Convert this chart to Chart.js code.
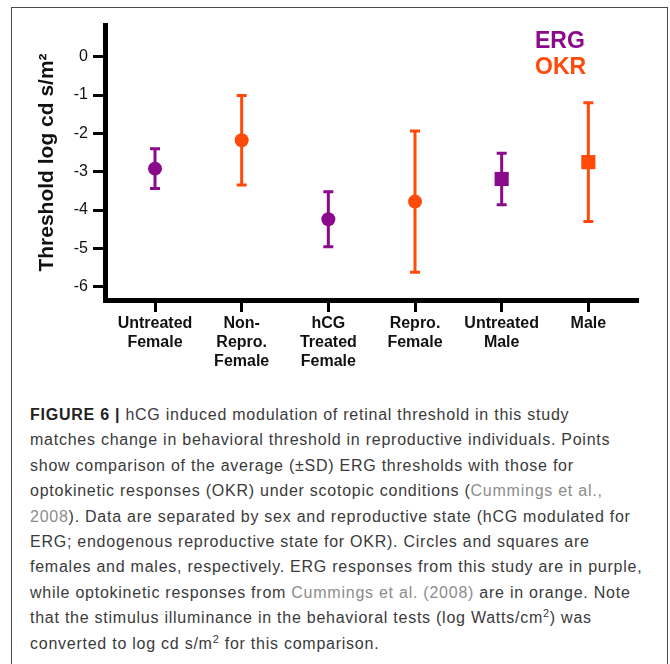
<!DOCTYPE html>
<html>
<head>
<meta charset="utf-8">
<script src="https://cdn.jsdelivr.net/npm/chart.js@4.4.1/dist/chart.umd.min.js"></script>
<style>
  html, body { margin: 0; padding: 0; background: #fff; }
  body { position: relative; width: 670px; height: 664px; overflow: hidden; font-family: "Liberation Sans", Arial, sans-serif; }
  .frame { position: absolute; left: 11px; top: 7px; width: 655px; height: 700px; border: 1px solid #4a4a4a; }
  #chart { position: absolute; left: 0; top: 0; }
  .caption { position: absolute; left: 30px; top: 402px; margin: 0; font-size: 16px; line-height: 25.4px; letter-spacing: 0.75px; color: #3a3a3a; white-space: nowrap; }
  .caption b { color: #222; }
  .caption .ref { color: #8c8c8c; }
  .caption sup { font-size: 11px; line-height: 0; vertical-align: 6px; }
</style>
</head>
<body>
<div class="frame"></div>
<canvas id="chart" width="670" height="385"></canvas>
<p class="caption"><b>FIGURE 6 |</b> hCG induced modulation of retinal threshold in this study<br>
matches change in behavioral threshold in reproductive individuals. Points<br>
show comparison of the average (±SD) ERG thresholds with those for<br>
optokinetic responses (OKR) under scotopic conditions (<span class="ref">Cummings et al.,</span><br>
<span class="ref">2008</span>). Data are separated by sex and reproductive state (hCG modulated for<br>
ERG; endogenous reproductive state for OKR). Circles and squares are<br>
females and males, respectively. ERG responses from this study are in purple,<br>
while optokinetic responses from <span class="ref">Cummings et al. (2008)</span> are in orange. Note<br>
that the stimulus illuminance in the behavioral tests (log Watts/cm<sup>2</sup>) was<br>
converted to log cd s/m<sup>2</sup> for this comparison.</p>
<script>
  const categories = [
    ['Untreated', 'Female'],
    ['Non-', 'Repro.', 'Female'],
    ['hCG', 'Treated', 'Female'],
    ['Repro.', 'Female'],
    ['Untreated', 'Male'],
    ['Male'],
  ];
  const sex = ['F', 'F', 'F', 'F', 'M', 'M'];

  // mean and SD, null where the group was not measured
  const ergMean = [-2.92, null, -4.24, null, -3.19, null];
  const ergSd = [0.52, null, 0.72, null, 0.67, null];
  const okrMean = [null, -2.18, null, -3.78, null, -2.75];
  const okrSd = [null, 1.17, null, 1.84, null, 1.55];

  const yTicks = [0, -1, -2, -3, -4, -5, -6];

  const PURPLE = '#8b0a8b';
  const ORANGE = '#ff4a0a';
  const FONT = '"Liberation Sans", Arial, sans-serif';

  Chart.defaults.font.family = FONT;

  const toPoints = (means, sds) =>
    means.map((y, i) => (y === null ? null : { x: i, y, sd: sds[i] })).filter(Boolean);

  const isMale = (c) => c.raw && sex[c.raw.x] === 'M';

  // vertical +-SD whiskers with caps, under the markers
  const errorBars = {
    id: 'errorBars',
    beforeDatasetsDraw(chart) {
      const { ctx, scales: { x, y } } = chart;
      ctx.save();
      ctx.lineWidth = 3;
      chart.data.datasets.forEach((ds) => {
        ctx.strokeStyle = ds.backgroundColor;
        ds.data.forEach((p) => {
          const px = x.getPixelForValue(p.x);
          const top = y.getPixelForValue(p.y + p.sd);
          const bot = y.getPixelForValue(p.y - p.sd);
          ctx.beginPath();
          ctx.moveTo(px, top);
          ctx.lineTo(px, bot);
          ctx.moveTo(px - 5, top);
          ctx.lineTo(px + 5, top);
          ctx.moveTo(px - 5, bot);
          ctx.lineTo(px + 5, bot);
          ctx.stroke();
        });
      });
      ctx.restore();
    },
  };

  // coloured series names in the top right of the plot
  const textLegend = {
    id: 'textLegend',
    afterDraw(chart) {
      const { ctx, chartArea } = chart;
      ctx.save();
      ctx.font = 'bold 23px ' + FONT;
      ctx.textBaseline = 'middle';
      chart.data.datasets.forEach((ds, i) => {
        ctx.fillStyle = ds.backgroundColor;
        ctx.fillText(ds.label, chartArea.right - 103, chartArea.top + 17 + i * 26);
      });
      ctx.restore();
    },
  };

  const axisGrid = { drawOnChartArea: false, tickLength: 12, tickWidth: 3, tickColor: '#000' };
  const axisBorder = { color: '#000', width: 5 };

  new Chart(document.getElementById('chart'), {
    type: 'scatter',
    data: {
      datasets: [
        { label: 'ERG', data: toPoints(ergMean, ergSd), backgroundColor: PURPLE, borderColor: PURPLE },
        { label: 'OKR', data: toPoints(okrMean, okrSd), backgroundColor: ORANGE, borderColor: ORANGE },
      ],
    },
    options: {
      responsive: false,
      animation: false,
      events: [],
      devicePixelRatio: 1,
      layout: { padding: { top: 25, right: 32, left: 0, bottom: 0 } },
      datasets: {
        scatter: {
          pointStyle: (c) => (isMale(c) ? 'rect' : 'circle'),
          pointRadius: (c) => (isMale(c) ? 10 : 7),
          pointBorderWidth: 0,
        },
      },
      plugins: {
        legend: { display: false },
        tooltip: { enabled: false },
      },
      scales: {
        x: {
          type: 'linear',
          min: -0.577,
          max: 5.573,
          afterBuildTicks: (s) => {
            s.ticks = categories.map((_, i) => ({ value: i }));
          },
          afterFit: (s) => {
            s.height = 85;
          },
          ticks: {
            callback: (v) => categories[v],
            autoSkip: false,
            maxRotation: 0,
            padding: 2,
            color: '#111',
            font: { size: 16, weight: 'bold', lineHeight: 1.2 },
          },
          grid: axisGrid,
          border: axisBorder,
        },
        y: {
          min: -6.347,
          max: 0.827,
          afterBuildTicks: (s) => {
            s.ticks = yTicks.map((v) => ({ value: v }));
          },
          afterFit: (s) => {
            s.width = 105;
          },
          ticks: { padding: 5, color: '#111', font: { size: 16 } },
          grid: axisGrid,
          border: axisBorder,
          title: {
            display: true,
            text: 'Threshold log cd s/m²',
            color: '#111',
            font: { size: 21, weight: 'bold' },
            padding: { top: 35, bottom: 0 },
          },
        },
      },
    },
    plugins: [errorBars, textLegend],
  });
</script>
</body>
</html>
